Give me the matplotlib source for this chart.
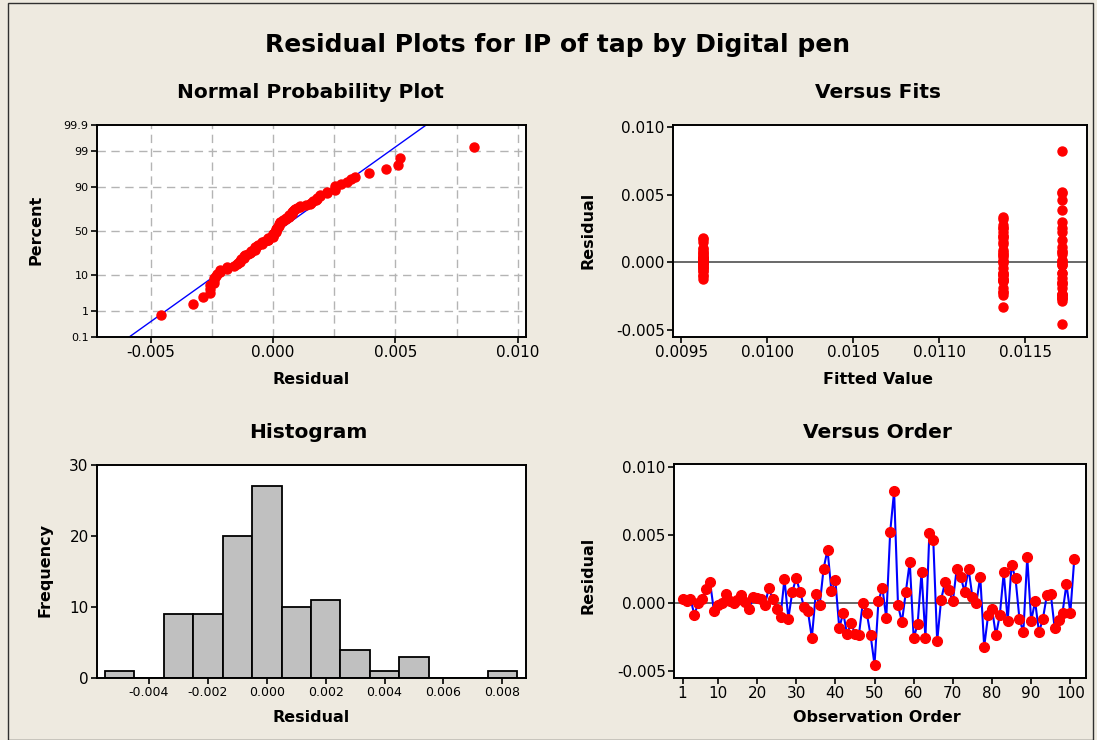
import matplotlib
matplotlib.use("Agg")
import matplotlib.pyplot as plt
import numpy as np
from statistics import NormalDist
from matplotlib.patches import Rectangle

# residuals in run order (x 1e-3)
residuals = np.array([
    0.25, 0.10, 0.30, -0.89, 0.00, 0.25, 0.99, 1.53, -0.62, -0.20,
    -0.02, 0.66, 0.15, -0.02, 0.17, 0.54, 0.05, -0.44, 0.39, 0.32,
    0.30, -0.20, 1.08, 0.25, -0.44, -1.03, 1.75, -1.18, 0.79, 1.80,
    0.79, -0.32, -0.64, -2.59, 0.66, -0.20, 2.51, 3.90, 0.84, 1.65,
    -1.87, -0.74, -2.32, -1.48, -2.29, -2.41, -0.02, -0.74, -2.41, -4.56,
    0.10, 1.11, -1.13, 5.20, 8.20, -0.20, -1.43, 0.80, 3.00, -2.59,
    -1.60, 2.22, -2.59, 5.10, 4.60, -2.85, 0.22, 1.50, 0.90, 0.10,
    2.51, 1.92, 0.79, 2.51, 0.42, -0.02, 1.92, -3.25, -0.94, -0.44,
    -2.41, -0.89, 2.22, -1.33, 2.76, 1.80, -1.18, -2.17, 3.35, -1.35,
    0.10, -2.17, -1.18, 0.54, 0.66, -1.87, -1.31, -0.74, 1.35, -0.74,
    3.20,
]) * 1e-3

# fitted value of each block of runs
fit_levels = [0.009624, 0.011715, 0.011372]
block_sizes = [33, 34, 34]
fitted = np.repeat(fit_levels, block_sizes)
order = np.arange(1, len(residuals) + 1)

# histogram bins (centre) and counts
hist_centers = [-0.005, -0.004, -0.003, -0.002, -0.001, 0.000, 0.001,
                0.002, 0.003, 0.004, 0.005, 0.006, 0.007, 0.008]
hist_counts = [1, 0, 9, 9, 20, 27, 10, 11, 4, 1, 3, 0, 0, 1]

pct_ticks = [0.1, 1, 10, 50, 90, 99, 99.9]
pct_labels = ['0.1', '1', '10', '50', '90', '99', '99.9']

plt.rcParams['font.family'] = 'DejaVu Sans'
plt.rcParams['axes.unicode_minus'] = False

W, H = 1097, 740
bg = '#eeeae0'
red = '#ff0000'
blue = '#0000ff'

fig = plt.figure(figsize=(W / 100, H / 100), dpi=100, facecolor=bg)

def box(l, t, r, b):
    return fig.add_axes([l / W, 1 - b / H, (r - l) / W, (b - t) / H])

def style(ax, size=11):
    for s in ax.spines.values():
        s.set_linewidth(1.4)
        s.set_color('black')
    ax.tick_params(direction='out', length=4, width=1.2, labelsize=size,
                   top=False, right=False, pad=2)
    ax.set_facecolor('white')

def ftext(x, y, s, size, rot=0, bold=True):
    fig.text(x / W, 1 - y / H, s, fontsize=size, rotation=rot,
             fontweight='bold' if bold else 'normal',
             ha='center', va='center')

# figure frame
fig.patches.append(Rectangle((8 / W, 0), (1093 - 8) / W, 1 - 3 / H,
                             transform=fig.transFigure, fill=False,
                             edgecolor='#303030', linewidth=1))

ftext(558, 45, 'Residual Plots for IP of tap by Digital pen', 18)

# ---- normal probability plot
nd = NormalDist()
ax1 = box(97, 125, 526, 337)
style(ax1)
n = len(residuals)
srt = np.sort(residuals)
z = np.array([nd.inv_cdf((i - 0.3) / (n + 0.4)) for i in range(1, n + 1)])
zlo, zhi = nd.inv_cdf(0.001), nd.inv_cdf(0.999)
for gx in [-0.005, -0.0025, 0.0, 0.0025, 0.005, 0.0075, 0.010]:
    ax1.axvline(gx, color='#b4b4b4', lw=1, ls=(0, (6, 4)), zorder=0)
for p in pct_ticks[1:-1]:
    ax1.axhline(nd.inv_cdf(p / 100), color='#b4b4b4', lw=1, ls=(0, (6, 4)), zorder=0)
mu, sd = residuals.mean(), residuals.std(ddof=1)
ax1.plot([mu + sd * zlo, mu + sd * zhi], [zlo, zhi], color=blue, lw=1, zorder=2)
ax1.plot(srt, z, 'o', color=red, ms=6.5, mec=red, zorder=3)
ax1.set_xlim(-0.00719, 0.01033)
ax1.set_ylim(zlo, zhi)
ax1.set_xticks([-0.005, 0.0, 0.005, 0.010])
ax1.set_xticklabels(['-0.005', '0.000', '0.005', '0.010'])
ax1.set_yticks([nd.inv_cdf(p / 100) for p in pct_ticks])
ax1.set_yticklabels(pct_labels, fontsize=8)
ftext(310, 92, 'Normal Probability Plot', 14.5)
ftext(311, 379, 'Residual', 11.5)
ftext(36, 230, 'Percent', 11.5, rot=90)

# ---- versus fits
ax2 = box(673, 125, 1087, 337)
style(ax2)
ax2.axhline(0, color='#404040', lw=1.1, zorder=1)
ax2.plot(fitted, residuals, 'o', color=red, ms=6.5, mec=red, zorder=3)
ax2.set_xlim(0.009451, 0.011858)
ax2.set_ylim(-0.00549, 0.01013)
ax2.set_xticks([0.0095, 0.0100, 0.0105, 0.0110, 0.0115])
ax2.set_xticklabels(['0.0095', '0.0100', '0.0105', '0.0110', '0.0115'])
ax2.set_yticks([-0.005, 0.0, 0.005, 0.010])
ax2.set_yticklabels(['-0.005', '0.000', '0.005', '0.010'])
ftext(878, 92, 'Versus Fits', 14.5)
ftext(878, 379, 'Fitted Value', 11.5)
ftext(588, 230, 'Residual', 11.5, rot=90)

# ---- histogram
ax3 = box(97, 465, 526, 678)
style(ax3)
ax3.bar(hist_centers, hist_counts, width=0.001, color='#c0c0c0',
        edgecolor='black', linewidth=1.3, zorder=2)
ax3.set_xlim(-0.005768, 0.008806)
ax3.set_ylim(0, 30)
ax3.set_xticks([-0.004, -0.002, 0.0, 0.002, 0.004, 0.006, 0.008])
ax3.set_xticklabels(['-0.004', '-0.002', '0.000', '0.002', '0.004', '0.006', '0.008'],
                    fontsize=9)
ax3.set_yticks([0, 10, 20, 30])
ftext(308, 433, 'Histogram', 14.5)
ftext(311, 717, 'Residual', 11.5)
ftext(45, 570, 'Frequency', 11.5, rot=90)

# ---- versus order
ax4 = box(674, 464, 1086, 678)
style(ax4)
ax4.axhline(0, color='#404040', lw=1.1, zorder=1)
ax4.plot(order, residuals, '-', color=blue, lw=1.5, zorder=2)
ax4.plot(order, residuals, 'o', color=red, ms=7, mec=red, zorder=3)
ax4.set_xlim(-1.2, 104)
ax4.set_ylim(-0.00554, 0.0102)
ax4.set_xticks([1, 10, 20, 30, 40, 50, 60, 70, 80, 90, 100])
ax4.set_yticks([-0.005, 0.0, 0.005, 0.010])
ax4.set_yticklabels(['-0.005', '0.000', '0.005', '0.010'])
ftext(877, 433, 'Versus Order', 14.5)
ftext(877, 718, 'Observation Order', 11.5)
ftext(588, 575, 'Residual', 11.5, rot=90)

fig.savefig('out.png', dpi=100, facecolor=bg)
